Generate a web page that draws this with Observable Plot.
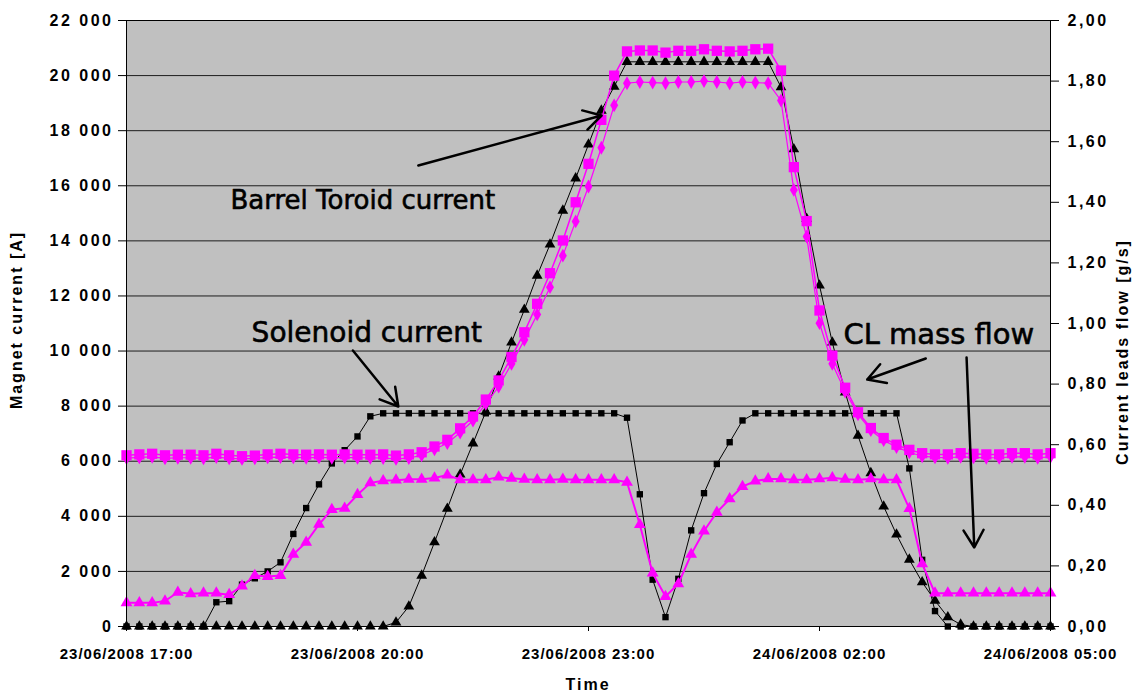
<!DOCTYPE html>
<html><head><meta charset="utf-8">
<script src="https://cdn.jsdelivr.net/npm/d3@7"></script>
<script src="https://cdn.jsdelivr.net/npm/@observablehq/plot@0.6"></script>
<style>body{margin:0;background:#fff} svg{display:block}</style>
</head><body><div id="chart"></div>
<script>
// Time base: samples every 10 minutes from 23/06/2008 17:00 (73 samples)
const startTime = Date.UTC(2008, 5, 23, 17, 0);
const stepMinutes = 10;
const xTickHours = [0, 3, 6, 9, 12]; // hours after start -> 17:00, 20:00, 23:00, 02:00, 05:00

// Left axis (Magnet current [A])
const leftTicks = [0, 2000, 4000, 6000, 8000, 10000, 12000, 14000, 16000, 18000, 20000, 22000];
// Right axis (Current leads flow [g/s])
const rightTicks = [0, 0.2, 0.4, 0.6, 0.8, 1.0, 1.2, 1.4, 1.6, 1.8, 2.0];

// Barrel Toroid current [A]
const toroid = [0,0,0,0,0,0,0,0,0,0, 0,0,0,0,0,0,0,0,0,0, 0,150,730,1850,3060,4280,5520,6650,7800,9080,
  10310,11500,12740,13870,15100,16270,17500,18730,19600,20500, 20500,20500,20500,20500,20500,20500,20500,20500,20500,20500,
  20500,19580,17330,14800,12380,10310,8500,6930,5570,4360, 3340,2430,1610,940,340,70,0,0,0,0, 0,0,0];
// Solenoid current [A]
const solenoid = [0,0,0,0,0,0,0,880,920,1520, 1750,2000,2330,3360,4300,5160,5920,6400,6900,7630,
  7740,7740,7740,7740,7740,7740,7740,7740,7740,7740, 7740,7740,7740,7740,7740,7740,7740,7740,7740,7580,
  4800,1700,340,1730,3490,4840,5900,6690,7480,7740, 7740,7740,7740,7740,7740,7740,7740,7740,7740,7740,
  7740,5740,2420,560,0,0,0,0,0,0, 0,0,0];
// CL mass flow, series A (squares) [g/s]
const flowA = [0.565,0.568,0.570,0.565,0.567,0.567,0.565,0.570,0.565,0.562, 0.564,0.568,0.570,0.568,0.567,0.568,0.567,0.568,0.567,0.567,
  0.568,0.564,0.568,0.575,0.594,0.616,0.654,0.693,0.749,0.812, 0.889,0.971,1.065,1.166,1.274,1.400,1.527,1.672,1.818,1.898,
  1.901,1.901,1.894,1.900,1.900,1.905,1.900,1.898,1.900,1.905, 1.907,1.835,1.516,1.338,1.043,0.894,0.788,0.707,0.655,0.622,
  0.600,0.583,0.572,0.568,0.568,0.572,0.570,0.568,0.568,0.572, 0.572,0.568,0.572];
// CL mass flow, series B (diamonds) [g/s]
const flowB = [0.556,0.558,0.560,0.555,0.557,0.557,0.555,0.559,0.555,0.553, 0.555,0.558,0.559,0.558,0.557,0.558,0.557,0.558,0.557,0.557,
  0.556,0.553,0.556,0.565,0.585,0.605,0.640,0.680,0.735,0.792, 0.867,0.946,1.030,1.120,1.224,1.337,1.452,1.580,1.720,1.793,
  1.797,1.795,1.793,1.797,1.797,1.800,1.797,1.793,1.797,1.795, 1.793,1.736,1.441,1.287,1.001,0.867,0.775,0.700,0.648,0.615,
  0.592,0.575,0.562,0.558,0.557,0.560,0.558,0.557,0.557,0.560, 0.560,0.557,0.560];
// CL mass flow, series C (stars) [g/s]
const flowC = [0.078,0.078,0.078,0.084,0.113,0.108,0.110,0.110,0.105,0.133, 0.168,0.165,0.168,0.238,0.278,0.337,0.386,0.390,0.435,0.474,
  0.481,0.483,0.486,0.486,0.490,0.500,0.484,0.484,0.484,0.493, 0.489,0.486,0.484,0.484,0.486,0.484,0.484,0.484,0.484,0.476,
  0.336,0.176,0.099,0.141,0.238,0.315,0.377,0.421,0.462,0.480, 0.487,0.487,0.484,0.484,0.487,0.491,0.486,0.484,0.487,0.484,
  0.484,0.389,0.207,0.110,0.110,0.110,0.110,0.110,0.110,0.110, 0.110,0.110,0.110];

// Annotations: [label, hours after start, value in A]
const annTexts = [
  {label: "Barrel Toroid current", h: 3.07, v: 15450, size: 26},
  {label: "Solenoid current", h: 3.12, v: 10650, size: 28},
  {label: "CL mass flow", h: 10.55, v: 10600, size: 29}
];
const annArrows = [
  {h1: 3.79, v1: 16736, h2: 6.17, v2: 18551},
  {h1: 2.94, v1: 10020, h2: 3.53, v2: 7987},
  {h1: 10.38, v1: 9729, h2: 9.62, v2: 8967},
  {h1: 10.91, v1: 9766, h2: 11.01, v2: 2868}
];

const FLOW_TO_A = 11000; // 2,00 g/s <-> 22 000 A
const t = i => new Date(startTime + i * stepMinutes * 60000);
const th = h => new Date(startTime + h * 3600000);
const mk = (arr, k = 1) => arr.map((v, i) => ({t: t(i), v: v * k}));
const dToroid = mk(toroid), dSolenoid = mk(solenoid);
const dA = mk(flowA, FLOW_TO_A), dB = mk(flowB, FLOW_TO_A), dC = mk(flowC, FLOW_TO_A);

const pad = n => String(n).padStart(2, "0");
const fmtTime = d => `${pad(d.getUTCDate())}/${pad(d.getUTCMonth() + 1)}/${d.getUTCFullYear()} ${pad(d.getUTCHours())}:${pad(d.getUTCMinutes())}`;
const fmtLeft = d => d3.format(",")(d).replace(/,/g, " ");
const fmtRight = d => (d / FLOW_TO_A).toFixed(2).replace(".", ",");
const MAG = "#ff00ff";

const chart = Plot.plot({
  width: 1137, height: 698,
  marginLeft: 126, marginRight: 87, marginTop: 20, marginBottom: 72,
  style: {background: "white", fontFamily: "'Liberation Sans', Arial, sans-serif", overflow: "visible"},
  x: {type: "utc", domain: [th(0), th(12)]},
  y: {domain: [0, 22000]},
  marks: [
    Plot.frame({fill: "#c0c0c0", stroke: "none"}),
    Plot.ruleY(leftTicks.slice(1), {stroke: "#000", strokeWidth: 1, strokeOpacity: 0.85}),
    Plot.axisY({ticks: leftTicks, tickSize: 8, tickPadding: 5, tickFormat: fmtLeft, label: null,
      fontSize: 16, fontWeight: "bold", fill: "#000"}),
    Plot.axisY({anchor: "right", ticks: rightTicks.map(v => v * FLOW_TO_A), tickSize: 8, tickPadding: 9,
      tickFormat: fmtRight, label: null, fontSize: 16, fontWeight: "bold", fill: "#000"}),
    Plot.axisX({ticks: xTickHours.map(th), tickSize: 5, tickPadding: 17, tickFormat: fmtTime, label: null,
      fontSize: 15, fontWeight: "bold", fill: "#000"}),
    // Black series
    Plot.line(dSolenoid, {x: "t", y: "v", stroke: "#000", strokeWidth: 1}),
    Plot.dot(dSolenoid, {x: "t", y: "v", symbol: "square", r: 3.6, fill: "#000"}),
    Plot.line(dToroid, {x: "t", y: "v", stroke: "#000", strokeWidth: 1}),
    Plot.dot(dToroid, {x: "t", y: "v", symbol: "triangle", r: 4, fill: "#000"}),
    // Magenta flow series
    Plot.line(dB, {x: "t", y: "v", stroke: MAG, strokeWidth: 1.2}),
    Plot.dot(dB, {x: "t", y: "v", symbol: "diamond", r: 4.2, fill: MAG}),
    Plot.line(dA, {x: "t", y: "v", stroke: MAG, strokeWidth: 1.5}),
    Plot.dot(dA, {x: "t", y: "v", symbol: "square", r: 5.8, fill: MAG}),
    Plot.line(dC, {x: "t", y: "v", stroke: MAG, strokeWidth: 2}),
    Plot.dot(dC, {x: "t", y: "v", symbol: "triangle", r: 4.4, fill: MAG}),
    // Annotations
    Plot.text(annTexts, {x: d => th(d.h), y: "v", text: "label", fontSize: d => d.size,
      fontFamily: "'Comic Sans MS', 'DejaVu Sans', sans-serif", fill: "#000", textAnchor: "middle",
      stroke: "#000", strokeWidth: 0.6}),
    Plot.arrow(annArrows, {x1: d => th(d.h1), y1: "v1", x2: d => th(d.h2), y2: "v2",
      stroke: "#000", strokeWidth: 2.5, headLength: 12}),
    Plot.frame({stroke: "#000", strokeWidth: 1})
  ]
});

const svg = d3.select(chart);
// widen tick labels to match the reference's stretched lettering
svg.selectAll("text").each(function() {
  const g = this.parentNode && this.parentNode.getAttribute && this.parentNode.getAttribute("aria-label");
  if (g === "y-axis tick label") {
    d3.select(this).attr("letter-spacing", "2.5").style("letter-spacing", "2.5px");
  } else if (g === "x-axis tick label") {
    d3.select(this).attr("letter-spacing", "1").style("letter-spacing", "1px");
  }
});
const addLabel = (x, y, rot, txt) => svg.append("text")
  .attr("transform", `translate(${x},${y}) rotate(${rot})`).attr("text-anchor", "middle")
  .attr("dominant-baseline", "middle")
  .style("font", "bold 16px 'Liberation Sans', Arial, sans-serif").style("letter-spacing", "2px")
  .attr("fill", "#000").text(txt);
addLabel(18, 320, -90, "Magnet current [A]");
addLabel(1124, 352, -90, "Current leads flow [g/s]");
addLabel(588, 686, 0, "Time");

document.getElementById("chart").appendChild(chart);
</script>
</body></html>
